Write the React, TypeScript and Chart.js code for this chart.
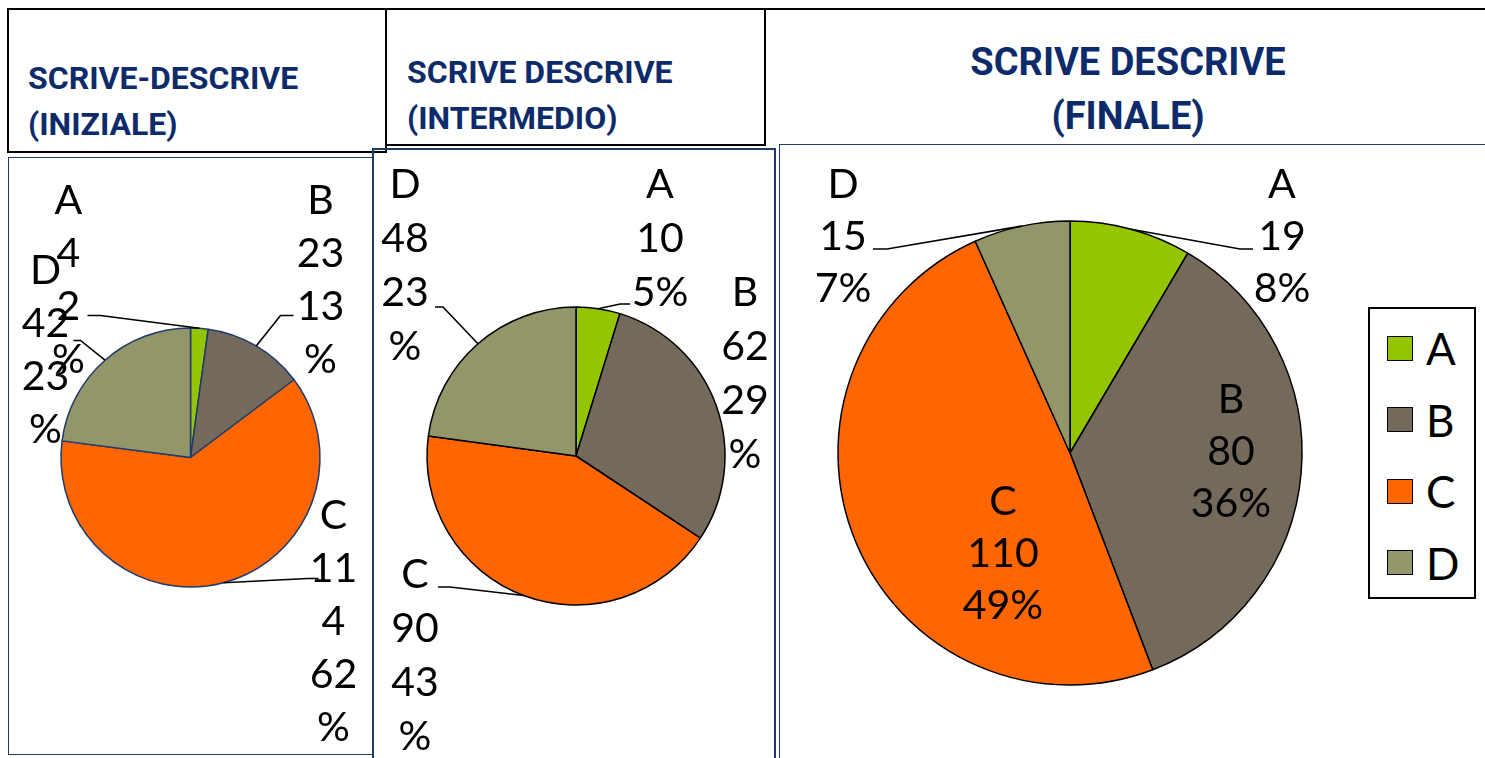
import React, { useEffect, useRef } from "react";
import { Chart, registerables } from "chart.js";

Chart.register(...registerables);

// ---------- data ----------
const categories = ["A", "B", "C", "D"];
const sliceColors = ["#95C500", "#736A5B", "#FF6600", "#929669"];

const inizialeValues = [4, 23, 114, 42];
const inizialePercents = [2, 13, 62, 23];

const intermedioValues = [10, 62, 90, 48];
const intermedioPercents = [5, 29, 43, 23];

const finaleValues = [19, 80, 110, 15];
const finalePercents = [8, 36, 49, 7];

const titleIniziale = ["SCRIVE-DESCRIVE", "(INIZIALE)"];
const titleIntermedio = ["SCRIVE DESCRIVE", "(INTERMEDIO)"];
const titleFinale = ["SCRIVE DESCRIVE", "(FINALE)"];

// ---------- layout ----------
const W = 1485;
const H = 758;
const NAVY = "#1F3A6E";
const TITLE_COLOR = "#0D2B6B";
const LABEL_FONT_FAMILY = "Lato, 'Open Sans', sans-serif";

type LabelPos = { dx: number; dy: number; elbow?: [number, number]; end?: [number, number] };
type PieCfg = {
  values: number[];
  percents: number[];
  cx: number;
  cy: number;
  r: number;
  border: string;
  lineHeight: number;
  fontSize: number;
  wrap: number;
  labels: LabelPos[];
};

const pieIniziale: PieCfg = {
  values: inizialeValues,
  percents: inizialePercents,
  cx: 190.5,
  cy: 457.5,
  r: 129.5,
  border: NAVY,
  lineHeight: 53,
  fontSize: 41,
  wrap: 52,
  labels: [
    { dx: -122, dy: -257, elbow: [-90, -142], end: [-103, -142] },
    { dx: 130, dy: -257, elbow: [90, -142], end: [103, -142] },
    { dx: 143, dy: 58, elbow: [117, 121], end: [128, 121] },
    { dx: -145, dy: -187, elbow: [-110, -117], end: [-117, -117] },
  ],
};

const pieIntermedio: PieCfg = {
  values: intermedioValues,
  percents: intermedioPercents,
  cx: 576,
  cy: 456,
  r: 149,
  border: "#000000",
  lineHeight: 54,
  fontSize: 41,
  wrap: 68,
  labels: [
    { dx: 84, dy: -271, elbow: [44, -152], end: [54, -152] },
    { dx: 169, dy: -163 },
    { dx: -161, dy: 119, elbow: [-126, 131], end: [-138, 131] },
    { dx: -171, dy: -271, elbow: [-133, -149], end: [-141, -149] },
  ],
};

const pieFinale: PieCfg = {
  values: finaleValues,
  percents: finalePercents,
  cx: 1070,
  cy: 453,
  r: 232,
  border: "#000000",
  lineHeight: 52,
  fontSize: 41,
  wrap: 10000,
  labels: [
    { dx: 212, dy: -268, elbow: [170, -204], end: [183, -204] },
    { dx: 161, dy: -53 },
    { dx: -67, dy: 49 },
    { dx: -227, dy: -268, elbow: [-183, -204], end: [-197, -204] },
  ],
};

function wrapText(ctx: CanvasRenderingContext2D, text: string, maxWidth: number): string[] {
  const out: string[] = [];
  let cur = "";
  for (const ch of text) {
    const test = cur + ch;
    if (cur && ctx.measureText(test).width > maxWidth) {
      out.push(cur);
      cur = ch;
    } else {
      cur = test;
    }
  }
  if (cur) out.push(cur);
  return out;
}

function makeLabelPlugin(cfg: PieCfg) {
  return {
    id: "sliceLabels",
    afterDatasetsDraw(chart: any) {
      const ctx: CanvasRenderingContext2D = chart.ctx;
      const meta = chart.getDatasetMeta(0);
      ctx.save();
      ctx.font = `${cfg.fontSize}px ${LABEL_FONT_FAMILY}`;
      ctx.fillStyle = "#000";
      ctx.strokeStyle = "#000";
      ctx.lineWidth = 1.6;
      ctx.textAlign = "center";
      ctx.textBaseline = "middle";
      meta.data.forEach((arc: any, i: number) => {
        const p = arc.getProps(["x", "y", "startAngle", "endAngle", "outerRadius"], true);
        const mid = (p.startAngle + p.endAngle) / 2;
        const pos = cfg.labels[i];
        if (pos.elbow && pos.end) {
          ctx.beginPath();
          ctx.moveTo(p.x + Math.cos(mid) * p.outerRadius, p.y + Math.sin(mid) * p.outerRadius);
          ctx.lineTo(p.x + pos.elbow[0], p.y + pos.elbow[1]);
          ctx.lineTo(p.x + pos.end[0], p.y + pos.end[1]);
          ctx.stroke();
        }
        const lines = [
          categories[i],
          ...wrapText(ctx, String(cfg.values[i]), cfg.wrap),
          ...wrapText(ctx, `${cfg.percents[i]}%`, cfg.wrap),
        ];
        lines.forEach((t, k) => {
          ctx.fillText(t, p.x + pos.dx, p.y + pos.dy + k * cfg.lineHeight);
        });
      });
      ctx.restore();
    },
  };
}

function PieCanvas({ cfg }: { cfg: PieCfg }) {
  const ref = useRef<HTMLCanvasElement | null>(null);
  useEffect(() => {
    if (!ref.current) return;
    const m = 6;
    const chart = new Chart(ref.current, {
      type: "pie",
      data: {
        labels: categories,
        datasets: [
          {
            data: cfg.values,
            backgroundColor: sliceColors,
            borderColor: cfg.border,
            borderWidth: 1.5,
            radius: cfg.r,
          } as any,
        ],
      },
      options: {
        animation: false,
        responsive: false,
        maintainAspectRatio: false,
        events: [],
        layout: {
          padding: {
            left: cfg.cx - cfg.r - m,
            right: W - cfg.cx - cfg.r - m,
            top: cfg.cy - cfg.r - m,
            bottom: H - cfg.cy - cfg.r - m,
          },
        },
        plugins: {
          legend: { display: false },
          tooltip: { enabled: false },
          title: { display: false },
        },
      },
      plugins: [makeLabelPlugin(cfg)],
    });
    return () => chart.destroy();
  }, [cfg]);
  return (
    <canvas
      ref={ref}
      width={W}
      height={H}
      style={{ position: "absolute", left: 0, top: 0, width: W, height: H }}
    />
  );
}

function Title({ lines, left, center, top, size, lh, align }: any) {
  return (
    <div
      style={{
        position: "absolute",
        left: align === "center" ? center - 300 : left,
        width: align === "center" ? 600 : undefined,
        top,
        textAlign: align === "center" ? "center" : "left",
        fontFamily: "Roboto, 'Liberation Sans', sans-serif",
        fontWeight: 700,
        fontSize: size,
        lineHeight: `${lh}px`,
        color: TITLE_COLOR,
        whiteSpace: "nowrap",
      }}
    >
      {lines.map((l: string, i: number) => (
        <div key={i}>{l}</div>
      ))}
    </div>
  );
}

function box(left: number, top: number, width: number, height: number, style: any) {
  return {
    position: "absolute" as const,
    left,
    top,
    width,
    height,
    boxSizing: "border-box" as const,
    ...style,
  };
}

export default function App() {
  return (
    <div
      style={{
        position: "absolute",
        left: 0,
        top: 0,
        width: W,
        height: H,
        overflow: "hidden",
        background: "#fff",
      }}
    >
      {/* header cells */}
      <div style={box(7, 8, 380, 145, { border: "2px solid #000" })} />
      <div style={box(385, 8, 381, 138, { border: "2px solid #000" })} />
      <div style={box(764, 8, 740, 138, { borderTop: "2px solid #000", borderLeft: "2px solid #000" })} />

      {/* chart boxes */}
      <div style={box(8, 157, 365, 598, { border: `1.5px solid ${NAVY}` })} />
      <div style={box(372, 148, 404, 640, { border: `2px solid ${NAVY}` })} />
      <div style={box(779, 144, 740, 640, { border: `1.5px solid ${NAVY}` })} />

      <Title lines={titleIniziale} left={28} top={55} size={32} lh={46} />
      <Title lines={titleIntermedio} left={407} top={49} size={32} lh={46} />
      <Title lines={titleFinale} center={1128} top={35} size={38} lh={54} align="center" />

      <PieCanvas cfg={pieIniziale} />
      <PieCanvas cfg={pieIntermedio} />
      <PieCanvas cfg={pieFinale} />

      {/* legend */}
      <div style={box(1368, 307, 108, 292, { border: "2px solid #000", background: "#fff" })}>
        {categories.map((c, i) => (
          <div
            key={c}
            style={{
              position: "absolute",
              left: 17,
              top: 39 + i * 71.5 - 22,
              height: 44,
              display: "flex",
              alignItems: "center",
            }}
          >
            <div
              style={{
                width: 26,
                height: 25,
                boxSizing: "border-box",
                border: "1.5px solid #000",
                background: sliceColors[i],
              }}
            />
            <div
              style={{
                marginLeft: 13,
                fontFamily: LABEL_FONT_FAMILY,
                fontSize: 44,
                lineHeight: "44px",
                color: "#000",
              }}
            >
              {c}
            </div>
          </div>
        ))}
      </div>
    </div>
  );
}
